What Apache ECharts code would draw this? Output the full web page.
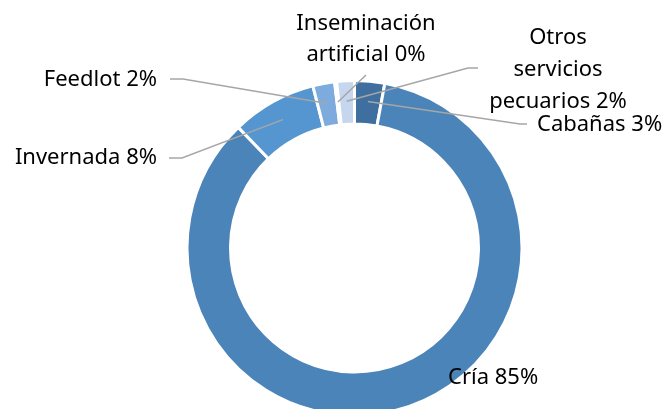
<!DOCTYPE html>
<html>
<head>
<meta charset="utf-8">
<script src="https://cdn.jsdelivr.net/npm/echarts@6/dist/echarts.min.js"></script>
<style>
  html, body { margin: 0; padding: 0; background: #fff; }
  #chart { width: 668px; height: 409px; }
</style>
</head>
<body>
<div id="chart"></div>
<script>
// datos (porcentajes), en el orden de las agujas del reloj desde arriba
var categories = ['Cabañas', 'Cría', 'Invernada', 'Feedlot', 'Inseminación artificial', 'Otros servicios pecuarios'];
var labelNames = ['Cabañas', 'Cría', 'Invernada', 'Feedlot', 'Inseminación\nartificial', 'Otros\nservicios\npecuarios'];
var values = [2.9, 84.9, 8.2, 2.1, 0.2, 1.7];
var colors = ['#3f6f9f', '#4b84b9', '#5596d0', '#7eabde', '#a9c3e6', '#c5d6ee'];

// posición de las etiquetas (como en el original de Excel)
var center = [354.5, 248];
var midRadius = 147;
var labelPos = [
  { x: 537, y: 125, align: 'left', bend: [[520, 124], [527, 124]] },
  { x: 448, y: 378, align: 'left', bend: null },
  { x: 157, y: 158, align: 'right', bend: [[182, 158], [169, 158]] },
  { x: 157, y: 80, align: 'right', bend: [[183, 79], [170, 79]] },
  { x: 366, y: 39, align: 'center', bend: [[366, 75]] },
  { x: 558, y: 70, align: 'center', bend: [[468, 68], [478, 68]] }
];

// punto medio de cada sector (para el inicio de la línea guía)
var total = values.reduce(function (a, b) { return a + b; }, 0);
var midPoints = [];
var cum = 0;
values.forEach(function (v) {
  var f = (cum + v / 2) / total;
  midPoints.push([
    center[0] + midRadius * Math.sin(2 * Math.PI * f),
    center[1] - midRadius * Math.cos(2 * Math.PI * f)
  ]);
  cum += v;
});

var pieBase = {
  type: 'pie',
  center: center,
  radius: [124, 167.5],
  startAngle: 90,
  clockwise: true,
  avoidLabelOverlap: false
};

var mychart = echarts.init(document.getElementById('chart'));
mychart.setOption({
  animation: false,
  series: [
    // anillo
    Object.assign({}, pieBase, {
      z: 2,
      itemStyle: { borderColor: '#fff', borderWidth: 3 },
      label: { show: false },
      labelLine: { show: false },
      data: categories.map(function (c, i) {
        return { name: c, value: values[i], itemStyle: { color: colors[i] } };
      })
    }),
    // etiquetas y líneas guía encima del anillo
    Object.assign({}, pieBase, {
      z: 3,
      silent: true,
      itemStyle: { color: 'rgba(0,0,0,0)', borderWidth: 0 },
      label: {
        show: true,
        position: 'outside',
        fontFamily: 'Noto Sans',
        fontSize: 22,
        lineHeight: 31,
        color: '#000',
        formatter: function (p) {
          return labelNames[p.dataIndex] + ' ' + Math.round(p.percent) + '%';
        }
      },
      labelLine: {
        show: true,
        lineStyle: { color: '#a6a6a6', width: 1.5 }
      },
      labelLayout: function (p) {
        var pos = labelPos[p.dataIndex];
        var out = { x: pos.x, y: pos.y, align: pos.align, verticalAlign: 'middle' };
        if (pos.bend) {
          out.labelLinePoints = [midPoints[p.dataIndex]].concat(pos.bend);
        }
        return out;
      },
      data: categories.map(function (c, i) {
        var item = { name: c, value: values[i] };
        if (i === 1) item.labelLine = { show: false };
        if (i === 5) item.label = { lineHeight: 32 };
        return item;
      })
    })
  ]
});
</script>
</body>
</html>
